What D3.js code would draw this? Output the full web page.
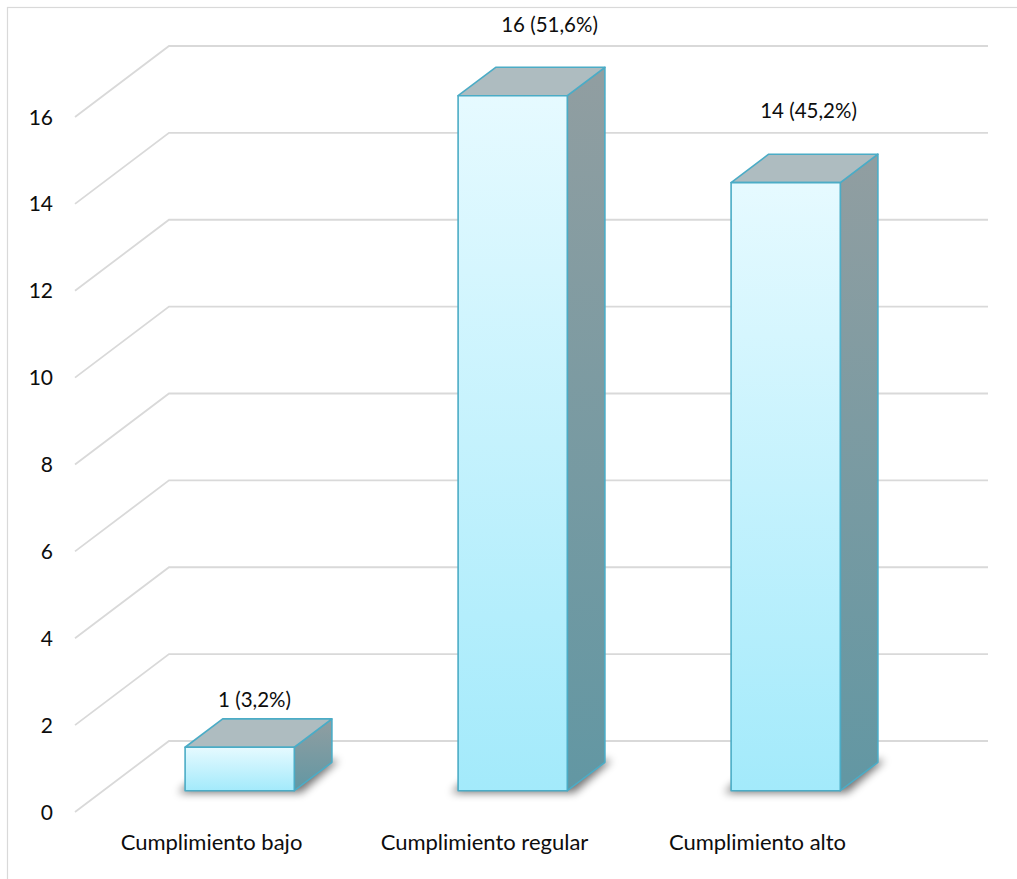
<!DOCTYPE html>
<html>
<head>
<meta charset="utf-8">
<script src="https://cdn.jsdelivr.net/npm/d3@7"></script>
<style>
  html, body { margin: 0; padding: 0; background: #fff; }
  svg { display: block; }
  text { font-family: Lato, "Open Sans", sans-serif; fill: #0d0d0d; }
</style>
</head>
<body>
<svg id="chart" width="1017" height="879"></svg>
<script>
// ---- data ----
const categories = ["Cumplimiento bajo", "Cumplimiento regular", "Cumplimiento alto"];
const values = [1, 16, 14];
const valueLabels = ["1 (3,2%)", "16 (51,6%)", "14 (45,2%)"];
const yTicks = [0, 2, 4, 6, 8, 10, 12, 14, 16];

// ---- layout (styling only) ----
const W = 1017, H = 879;
const front = { x0: 75, x1: 894, yBottom: 812, yTop: 117 };
const depth = { dx: 94, dy: -71 };          // full floor depth vector
const barDepth = [0.3, 0.7];                // bar occupies this fraction of floor depth
const labelDx = [-4, 18, 4];
const labelDy = [-12, -35, -36];

const svg = d3.select("#chart");
const defs = svg.append("defs");

const x = d3.scaleBand().domain(categories).range([front.x0, front.x1])
  .paddingInner(0.6).paddingOuter(0.3);
const xCenter = d3.scaleBand().domain(categories).range([front.x0, front.x1]);
const y = d3.scaleLinear().domain([0, 16]).range([front.yBottom, front.yTop]);

const P = (px, py, t) => [px + depth.dx * t, py + depth.dy * t];

// gradients
function lg(id, stops) {
  const g = defs.append("linearGradient").attr("id", id)
    .attr("x1", 0).attr("y1", 0).attr("x2", 0).attr("y2", 1);
  stops.forEach(([o, c]) => g.append("stop").attr("offset", o).attr("stop-color", c));
}
lg("gFront", [[0, "#e6faff"], [1, "#a3eafb"]]);
lg("gSide", [[0, "#919ea1"], [1, "#6297a3"]]);
lg("gTop", [[0, "#aebcc0"], [1, "#aebcc0"]]);
defs.append("filter").attr("id", "blur").attr("x", "-50%").attr("y", "-50%")
  .attr("width", "200%").attr("height", "200%")
  .append("feGaussianBlur").attr("stdDeviation", 4);

// chart border
svg.append("rect").attr("x", 7.5).attr("y", 7.5).attr("width", 1020).attr("height", 880)
  .attr("fill", "none").attr("stroke", "#d9d9d9").attr("stroke-width", 1.2);

// gridlines: diagonal on side wall + horizontal on back wall
const grid = svg.append("g").attr("stroke", "#d9d9d9").attr("stroke-width", 1.8).attr("fill", "none");
yTicks.forEach(v => {
  const a = [front.x0, y(v)];
  const b = P(front.x0, y(v), 1);
  const c = P(front.x1, y(v), 1);
  grid.append("path").attr("d", d3.line()([a, b, c]));
});

// y tick labels
svg.append("g").selectAll("text").data(yTicks).join("text")
  .attr("x", 53).attr("y", d => y(d)).attr("dy", "0.36em")
  .attr("text-anchor", "end").attr("font-size", 21).text(d => d);

// bars
const bars = svg.append("g");
categories.forEach((cat, i) => {
  const xl = x(cat), xr = x(cat) + x.bandwidth();
  const yb = y(0), yt = y(values[i]);
  const [t0, t1] = barDepth;
  const fBL = P(xl, yb, t0), fBR = P(xr, yb, t0), fTL = P(xl, yt, t0), fTR = P(xr, yt, t0);
  const bBL = P(xl, yb, t1), bBR = P(xr, yb, t1), bTL = P(xl, yt, t1), bTR = P(xr, yt, t1);
  const g = bars.append("g");
  // shadow footprint
  const e = 7;
  g.append("path")
    .attr("d", d3.line()([[fBL[0] - e, fBL[1] + 2], [fBR[0] + e, fBR[1] + 2], [bBR[0] + e, bBR[1] - 2], [bBL[0] - e, bBL[1] - 2]]) + "Z")
    .attr("fill", "#000").attr("opacity", 0.55).attr("filter", "url(#blur)");
  const stroke = "#4bacc6", sw = 1.6;
  // side face
  g.append("path").attr("d", d3.line()([fTR, bTR, bBR, fBR]) + "Z")
    .attr("fill", "url(#gSide)").attr("stroke", stroke).attr("stroke-width", sw).attr("stroke-linejoin", "round");
  // top face
  g.append("path").attr("d", d3.line()([fTL, fTR, bTR, bTL]) + "Z")
    .attr("fill", "url(#gTop)").attr("stroke", stroke).attr("stroke-width", sw).attr("stroke-linejoin", "round");
  // front face
  g.append("path").attr("d", d3.line()([fTL, fTR, fBR, fBL]) + "Z")
    .attr("fill", "url(#gFront)").attr("stroke", stroke).attr("stroke-width", sw).attr("stroke-linejoin", "round");
  // value label
  const mid = (t0 + t1) / 2;
  const lp = P(xl + x.bandwidth() / 2, yt, mid);
  g.append("text")
    .attr("x", lp[0] + labelDx[i]).attr("y", bTL[1] + labelDy[i])
    .attr("text-anchor", "middle").attr("font-size", 20.5).text(valueLabels[i]);
});

// category labels
svg.append("g").selectAll("text").data(categories).join("text")
  .attr("x", d => xCenter(d) + xCenter.bandwidth() / 2).attr("y", 850)
  .attr("text-anchor", "middle").attr("font-size", 22).text(d => d);
</script>
</body>
</html>
